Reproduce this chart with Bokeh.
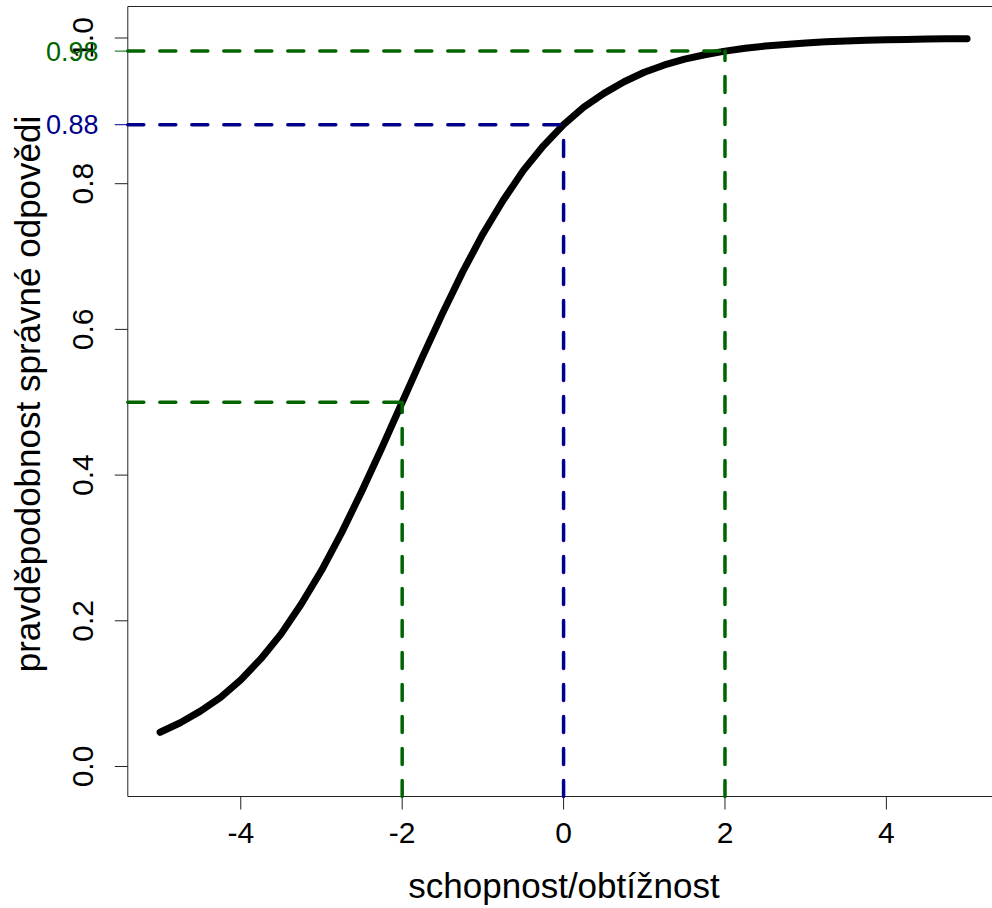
import math
from bokeh.plotting import figure
from bokeh.models import Range1d, ColumnDataSource
from bokeh.core.properties import value
from bokeh.embed import file_html
from bokeh.resources import INLINE

# ---- data ----
ability = [-5.0, -4.75, -4.5, -4.25, -4.0, -3.75, -3.5, -3.25, -3.0, -2.75,
           -2.5, -2.25, -2.0, -1.75, -1.5, -1.25, -1.0, -0.75, -0.5, -0.25,
           0.0, 0.25, 0.5, 0.75, 1.0, 1.25, 1.5, 1.75, 2.0, 2.25,
           2.5, 2.75, 3.0, 3.25, 3.5, 3.75, 4.0, 4.25, 4.5, 4.75, 5.0]
prob = [0.047, 0.060, 0.076, 0.095, 0.119, 0.148, 0.182, 0.223, 0.269, 0.321,
        0.378, 0.438, 0.500, 0.562, 0.622, 0.679, 0.731, 0.777, 0.818, 0.852,
        0.881, 0.905, 0.924, 0.940, 0.953, 0.963, 0.971, 0.977, 0.982, 0.986,
        0.989, 0.991, 0.993, 0.995, 0.996, 0.997, 0.9975, 0.998, 0.9985, 0.9988, 0.999]

guide_x = [-2.0, 0.0, 2.0]
guide_y = [0.5, 0.881, 0.982]
guide_colors = ["darkgreen", "darkblue", "darkgreen"]
guide_labels = ["", "0.88", "0.98"]

x_ticks = [-4, -2, 0, 2, 4]
x_tick_labels = ["-4", "-2", "0", "2", "4"]
y_ticks = [0.0, 0.2, 0.4, 0.6, 0.8, 1.0]
y_tick_labels = ["0.0", "0.2", "0.4", "0.6", "0.8", "1.0"]

x_title = "schopnost/obtížnost"
y_title = "pravděpodobnost správné odpovědi"

# ---- layout (pixels measured on the reference) ----
W, H = 992, 908
PX_PER_X = 80.7          # pixels per x unit
PX_PER_Y = 728.5         # pixels per y unit
BOX_LEFT_PX = 127.3      # left side of the plotting box
Y0_PX = 766.0            # pixel row of y = 0
BOX_TOP_PX = 6.0
BOX_BOTTOM_PX = 796.0
TICK_PX = 13

BOX_LEFT = -5.4
X_START = BOX_LEFT - BOX_LEFT_PX / PX_PER_X
X_END = X_START + W / PX_PER_X
Y_MAX = Y0_PX / PX_PER_Y
Y_MIN = Y_MAX - H / PX_PER_Y


def px_x(px):
    return X_START + px / PX_PER_X


def px_y(py):
    return Y_MAX - py / PX_PER_Y


BOX_TOP = px_y(BOX_TOP_PX)
BOX_BOTTOM = px_y(BOX_BOTTOM_PX)
X_TICK_LEN = TICK_PX / PX_PER_X
Y_TICK_LEN = TICK_PX / PX_PER_Y

FONT = "Liberation Sans"
AXIS_COLOR = "#222222"

p = figure(width=W, height=H, x_range=Range1d(X_START, X_END),
           y_range=Range1d(Y_MIN, Y_MAX),
           x_axis_location=None, y_axis_location=None,
           output_backend="svg", toolbar_location=None,
           min_border_left=0, min_border_right=0,
           min_border_top=0, min_border_bottom=0)
p.grid.visible = False
p.outline_line_color = None
p.background_fill_color = "white"
p.border_fill_color = "white"

# box: left, top and bottom sides
p.segment(x0=[BOX_LEFT, BOX_LEFT, BOX_LEFT], y0=[BOX_BOTTOM, BOX_TOP, BOX_BOTTOM],
          x1=[BOX_LEFT, X_END, X_END], y1=[BOX_TOP, BOX_TOP, BOX_BOTTOM],
          line_color=AXIS_COLOR, line_width=1)

# x axis ticks, labels, title
p.segment(x0=x_ticks, y0=[BOX_BOTTOM] * len(x_ticks),
          x1=x_ticks, y1=[BOX_BOTTOM - Y_TICK_LEN] * len(x_ticks),
          line_color=AXIS_COLOR, line_width=1)
p.text(x=x_ticks, y=[px_y(832)] * len(x_ticks), text=x_tick_labels,
       text_align="center", text_baseline="alphabetic",
       text_font=value(FONT), text_font_size=value("30px"), text_color="black")
p.text(x=[px_x(563.5)], y=[px_y(885)], text=[x_title],
       text_align="center", text_baseline="alphabetic",
       text_font=value(FONT), text_font_size=value("35px"), text_color="black")

# y axis ticks, labels, title
p.segment(x0=[BOX_LEFT] * len(y_ticks), y0=y_ticks,
          x1=[BOX_LEFT - X_TICK_LEN] * len(y_ticks), y1=y_ticks,
          line_color=AXIS_COLOR, line_width=1)
p.text(x=[px_x(82)] * len(y_ticks), y=y_ticks, text=y_tick_labels,
       angle=math.pi / 2, text_align="center", text_baseline="alphabetic",
       text_font=value(FONT), text_font_size=value("30px"), text_color="black")
p.text(x=[px_x(27)], y=[px_y(393.5)], text=[y_title],
       angle=math.pi / 2, text_align="center", text_baseline="alphabetic",
       text_font=value(FONT), text_font_size=value("35px"), text_color="black")

# curve
p.line(ability, prob, line_color="black", line_width=7, line_cap="round", line_join="round")

# guide lines
src_h = ColumnDataSource(dict(x0=[BOX_LEFT] * len(guide_x), x1=guide_x,
                              y0=guide_y, y1=guide_y, c=guide_colors))
src_v = ColumnDataSource(dict(x0=guide_x, x1=guide_x,
                              y0=[BOX_BOTTOM] * len(guide_x), y1=guide_y, c=guide_colors))
for src in (src_h, src_v):
    p.segment(x0="x0", y0="y0", x1="x1", y1="y1", source=src, line_color="c",
              line_width=3.5, line_dash="16 16", line_cap="round")

# extra coloured ticks and labels on the y axis
lab_y = [gy for gy, lab in zip(guide_y, guide_labels) if lab]
lab_c = [c for c, lab in zip(guide_colors, guide_labels) if lab]
lab_t = [lab for lab in guide_labels if lab]
p.segment(x0=[BOX_LEFT] * len(lab_y), y0=lab_y, x1=[BOX_LEFT - X_TICK_LEN] * len(lab_y), y1=lab_y,
          line_color=lab_c, line_width=1)
p.text(x=[px_x(98)] * len(lab_y), y=lab_y, text=lab_t, text_color=lab_c,
       text_align="right", text_baseline="middle",
       text_font=value(FONT), text_font_size=value("27px"))

open("out.html", "w").write(file_html(p, INLINE))
